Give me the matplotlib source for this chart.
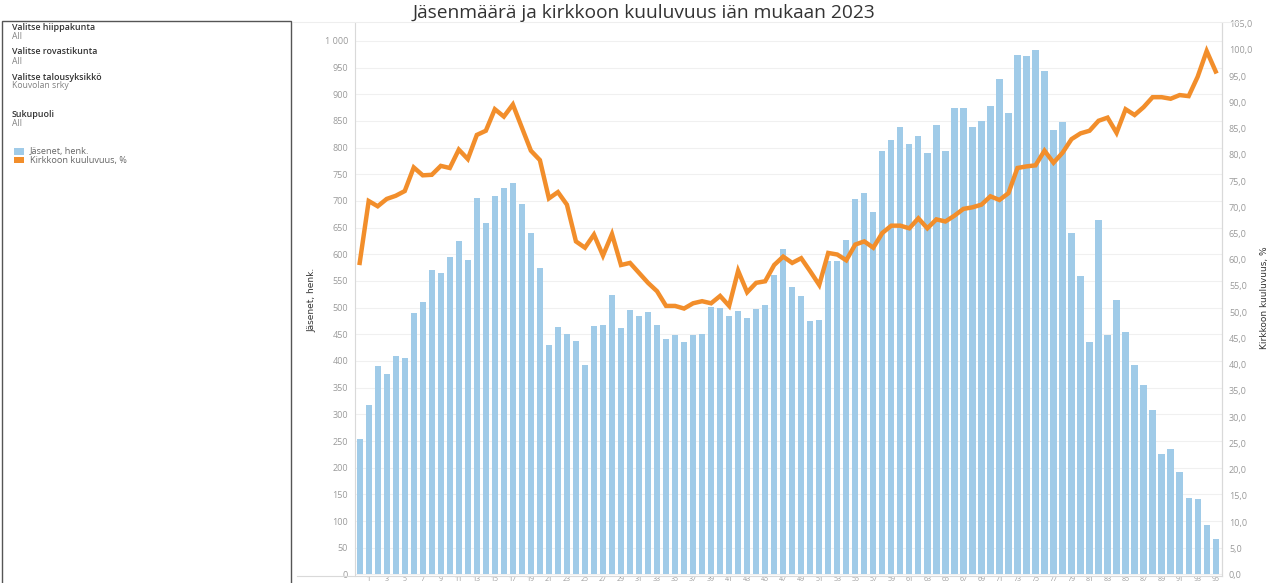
import matplotlib
matplotlib.use("Agg")
import matplotlib.pyplot as plt
from matplotlib.lines import Line2D
from matplotlib.patches import Rectangle
from matplotlib.ticker import FuncFormatter, MultipleLocator

# ── Data ──────────────────────────────────────────────────────────────────────
ages = list(range(0, 96))

members = [
    254, 318, 390, 375, 410, 405, 490, 510, 570, 565,
    595, 625, 590, 705, 658, 710, 725, 733, 695, 640,
    575, 430, 463, 450, 437, 392, 465, 467, 523, 462,
    495, 485, 492, 468, 442, 448, 435, 448, 450, 502,
    500, 485, 493, 480, 498, 505, 561, 609, 538, 522,
    475, 476, 587, 587, 627, 704, 715, 679, 794, 814,
    838, 807, 821, 790, 843, 794, 875, 875, 838, 849,
    878, 928, 865, 974, 972, 983, 943, 833, 848, 640,
    559, 435, 665, 449, 515, 454, 392, 355, 309, 226,
    236, 192, 144, 142, 92, 67,
]

share_pct = [
    59.4, 71.2, 70.2, 71.6, 72.2, 73.1, 77.6, 76.1, 76.2, 77.9,
    77.5, 81.0, 79.2, 83.8, 84.6, 88.7, 87.3, 89.6, 85.2, 80.8,
    79.0, 71.7, 72.9, 70.5, 63.5, 62.3, 64.8, 60.8, 64.9, 59.0,
    59.4, 57.5, 55.6, 54.0, 51.2, 51.2, 50.7, 51.7, 52.1, 51.7,
    53.1, 51.2, 57.9, 53.8, 55.6, 55.9, 59.0, 60.6, 59.4, 60.3,
    57.8, 55.2, 61.3, 61.0, 59.9, 62.9, 63.5, 62.3, 65.1, 66.5,
    66.5, 66.0, 67.9, 66.0, 67.7, 67.3, 68.4, 69.7, 70.0, 70.5,
    72.1, 71.4, 72.7, 77.5, 77.8, 78.0, 80.8, 78.5, 80.4, 83.0,
    84.1, 84.6, 86.5, 87.1, 84.2, 88.7, 87.6, 89.1, 91.0, 91.0,
    90.7, 91.4, 91.2, 94.9, 99.8, 95.9,
]

x_tick_ages = [a for a in ages if a % 2 == 1]

filters = [
    ("Valitse hiippakunta", "All"),
    ("Valitse rovastikunta", "All"),
    ("Valitse talousyksikkö", "Kouvolan srky"),
    ("Sukupuoli", "All"),
]
legend_labels = ["Jäsenet, henk.", "Kirkkoon kuuluvuus, %"]

title = "Jäsenmäärä ja kirkkoon kuuluvuus iän mukaan 2023"

# ── Style ─────────────────────────────────────────────────────────────────────
BAR_COLOR = "#a0cbe8"
LINE_COLOR = "#f28e2b"
TICK_COLOR = "#9a9a9a"
GRID_COLOR = "#f0f0f0"
AXIS_LINE = "#d9d9d9"
FONT = ["Open Sans", "DejaVu Sans"]
NARROW = ["Liberation Sans Narrow", "DejaVu Sans"]

plt.rcParams["font.family"] = FONT

W, H = 1271, 583
fig = plt.figure(figsize=(W / 100, H / 100), dpi=100)


def fx(px):
    return px / W


def fy(py):
    return 1 - py / H


# ── Main chart ────────────────────────────────────────────────────────────────
ax = fig.add_axes([fx(355), fy(575.5), fx(1222) - fx(355), fy(22.7) - fy(575.5)])
ax.bar(ages, members, width=0.7, color=BAR_COLOR, zorder=2)
ax.set_xlim(-0.52, 95.7)
ax.set_ylim(-2, 1034)
ax.yaxis.set_major_locator(MultipleLocator(50))
ax.yaxis.set_major_formatter(FuncFormatter(lambda v, _: f"{int(v):,}".replace(",", " ")))
ax.grid(axis="y", color=GRID_COLOR, linewidth=0.8, zorder=0)
ax.set_axisbelow(True)
ax.tick_params(axis="y", length=0, pad=5, labelsize=6.5, labelcolor=TICK_COLOR)
ax.set_xticks(x_tick_ages)
ax.set_xticklabels([str(a) for a in x_tick_ages])
ax.tick_params(axis="x", length=0, pad=0.5, labelsize=5, labelcolor=TICK_COLOR)
for side in ("top", "bottom"):
    ax.spines[side].set_visible(False)
for side in ("left", "right"):
    ax.spines[side].set_color(AXIS_LINE)
    ax.spines[side].set_linewidth(0.8)

ax2 = ax.twinx()
ax2.plot(ages, share_pct, color=LINE_COLOR, linewidth=3.2, solid_joinstyle="miter",
         zorder=3)
ax2.set_ylim(-0.2, 105.2)
ax2.yaxis.set_major_locator(MultipleLocator(5))
ax2.yaxis.set_major_formatter(FuncFormatter(lambda v, _: f"{v:.1f}".replace(".", ",")))
ax2.tick_params(axis="y", length=0, pad=5, labelsize=6.5, labelcolor=TICK_COLOR)
for side in ("top", "bottom", "left"):
    ax2.spines[side].set_visible(False)
ax2.spines["right"].set_color(AXIS_LINE)
ax2.spines["right"].set_linewidth(0.8)

fig.text(fx(312), fy(300), "Jäsenet, henk.", rotation=90, ha="center", va="center",
         fontsize=6.5, color="#333333", family=NARROW)
fig.text(fx(1265), fy(298), "Kirkkoon kuuluvuus, %", rotation=90, ha="center",
         va="center", fontsize=6.5, color="#333333", family=NARROW)

# frame lines of the chart area
fig.add_artist(Line2D([fx(293), fx(1240)], [fy(22), fy(22)], color="#eeeeee", lw=0.8))
fig.add_artist(Line2D([fx(297), fx(1222)], [fy(576), fy(576)], color=AXIS_LINE, lw=0.8))

fig.text(fx(644), fy(12.5), title, ha="center", va="center", fontsize=13.8,
         color="#333333")

# ── Filter panel ──────────────────────────────────────────────────────────────
fig.add_artist(Rectangle((fx(2), fy(590)), fx(291) - fx(2), fy(21) - fy(590),
                         fill=False, edgecolor="#555555", linewidth=1.0))

filter_y = [27.5, 52, 77, 114.5]
for (label, value), y in zip(filters, filter_y):
    fig.text(fx(12), fy(y), label, ha="left", va="center", fontsize=6.4,
             color="#333333", fontweight="semibold")
    fig.text(fx(12), fy(y + 9), value, ha="left", va="center", fontsize=6.2,
             color="#808080")

for (label, color), y in zip(zip(legend_labels, [BAR_COLOR, LINE_COLOR]), [151.5, 160]):
    fig.add_artist(Rectangle((fx(14), fy(y + 3.3)), fx(24) - fx(14), fy(y - 3.3) - fy(y + 3.3),
                             facecolor=color, edgecolor="none"))
    fig.text(fx(30), fy(y), label, ha="left", va="center", fontsize=6.6, color="#666666")

fig.savefig("out.png", dpi=100)
